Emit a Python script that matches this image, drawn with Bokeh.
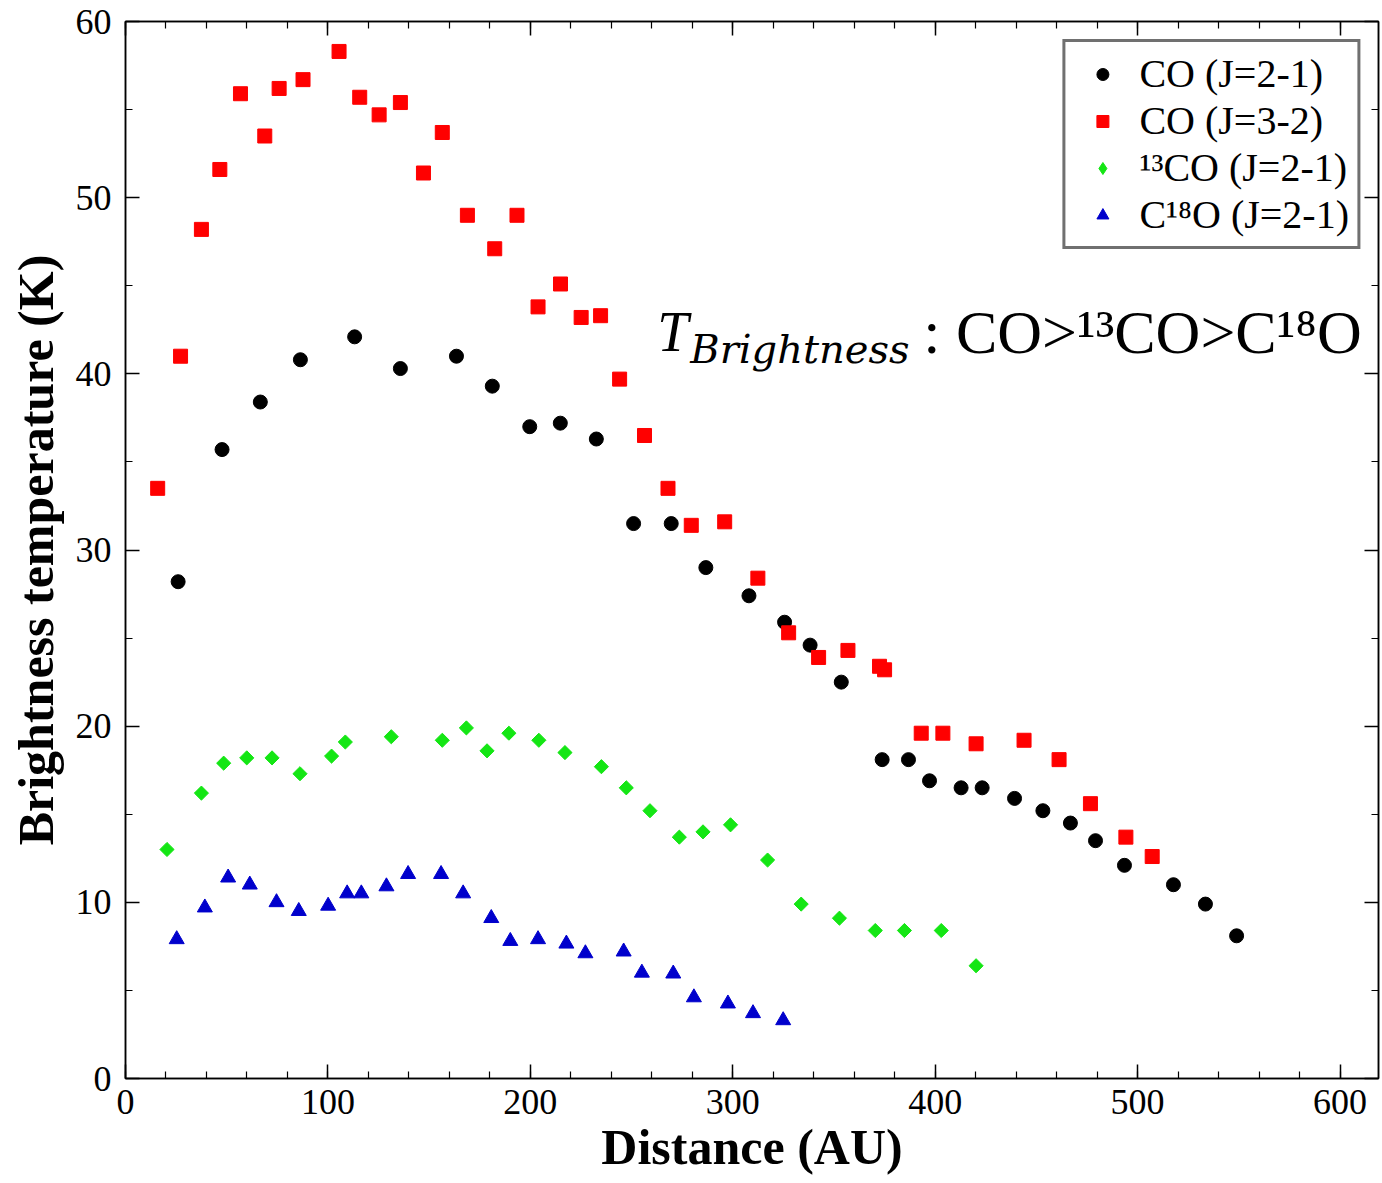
from bokeh.plotting import figure
from bokeh.models import (Range1d, LinearAxis, SingleIntervalTicker, Legend, LegendItem, Label,
                          CustomLabelingPolicy)
from bokeh.embed import file_html
from bokeh.resources import INLINE
import math

# ---------------- data ----------------
co21_x = [26.0, 47.7, 66.6, 86.4, 113.2, 135.8, 163.5, 181.2, 199.7, 214.8, 232.6, 251.0,
          269.6, 286.7, 308.0, 325.6, 338.2, 353.6, 373.8, 386.8, 397.2, 412.8, 423.2, 439.2,
          453.2, 466.8, 479.2, 493.5, 517.7, 533.5, 548.9]
co21_y = [28.2, 35.7, 38.4, 40.8, 42.1, 40.3, 41.0, 39.3, 37.0, 37.2, 36.3, 31.5,
          31.5, 29.0, 27.4, 25.9, 24.6, 22.5, 18.1, 18.1, 16.9, 16.5, 16.5, 15.9,
          15.2, 14.5, 13.5, 12.1, 11.0, 9.9, 8.1]

co32_x = [15.9, 27.2, 37.5, 46.6, 56.8, 68.8, 75.9, 87.7, 105.5, 115.7, 125.3, 135.8,
          147.2, 156.5, 168.9, 182.4, 193.4, 203.8, 214.9, 225.1, 234.7, 244.1, 256.4, 268.0,
          279.5, 296.0, 312.4, 327.6, 342.4, 356.9, 372.5, 375.0, 393.1, 403.8, 420.2, 443.9,
          461.2, 476.7, 494.2, 507.2]
co32_y = [33.5, 41.0, 48.2, 51.6, 55.9, 53.5, 56.2, 56.7, 58.3, 55.7, 54.7, 55.4,
          51.4, 53.7, 49.0, 47.1, 49.0, 43.8, 45.1, 43.2, 43.3, 39.7, 36.5, 33.5,
          31.4, 31.6, 28.4, 25.3, 23.9, 24.3, 23.4, 23.2, 19.6, 19.6, 19.0, 19.2,
          18.1, 15.6, 13.7, 12.6]

co13_x = [20.5, 37.5, 48.5, 59.9, 72.4, 86.2, 101.8, 108.6, 131.3, 156.5, 168.4, 178.6,
          189.4, 204.2, 217.1, 235.1, 247.4, 259.1, 273.6, 285.3, 298.9, 317.2, 333.8, 352.7,
          370.4, 384.8, 403.0, 420.2]
co13_y = [13.0, 16.2, 17.9, 18.2, 18.2, 17.3, 18.3, 19.1, 19.4, 19.2, 19.9, 18.6,
          19.6, 19.2, 18.5, 17.7, 16.5, 15.2, 13.7, 14.0, 14.4, 12.4, 9.9, 9.1,
          8.4, 8.4, 8.4, 6.4]

c18o_x = [25.3, 39.2, 50.7, 61.4, 74.6, 85.6, 100.1, 109.5, 116.5, 128.9, 139.6, 155.9,
          166.8, 180.7, 190.1, 203.8, 217.8, 227.2, 246.1, 255.1, 270.6, 280.8, 297.6, 310.0,
          324.9]
c18o_y = [7.9, 9.7, 11.4, 11.0, 10.0, 9.5, 9.8, 10.5, 10.5, 10.9, 11.6, 11.6,
          10.5, 9.1, 7.8, 7.9, 7.65, 7.1, 7.2, 6.0, 5.95, 4.6, 4.25, 3.7,
          3.3]

series_labels = ["CO (J=2-1)", "CO (J=3-2)", "\u00b9\u00b3CO (J=2-1)", "C\u00b9\u2078O (J=2-1)"]
x_title = "Distance (AU)"
y_title = "Brightness temperature (K)"

SERIF = "Liberation Serif"
GREEN = "#14e614"

p = figure(width=1380, height=1181, output_backend="svg", toolbar_location=None,
           x_range=Range1d(0, 619), y_range=Range1d(0, 60),
           min_border_left=125, min_border_right=2, min_border_top=21, min_border_bottom=103)
p.xgrid.visible = False
p.ygrid.visible = False
p.outline_line_color = "black"
p.outline_line_width = 1.5
p.background_fill_color = "white"
p.border_fill_color = "white"


def style(ax):
    ax.major_tick_in = 14
    ax.major_tick_out = 0
    ax.minor_tick_in = 7
    ax.minor_tick_out = 0
    ax.axis_line_color = "black"
    ax.axis_line_width = 1.5
    ax.major_tick_line_color = "black"
    ax.minor_tick_line_color = "black"
    ax.major_tick_line_width = 1.5
    ax.minor_tick_line_width = 1.2
    ax.major_label_text_font = SERIF
    ax.major_label_text_font_size = "36px"
    ax.major_label_text_color = "black"
    ax.axis_label_text_font = SERIF
    ax.axis_label_text_font_style = "bold"
    ax.axis_label_text_font_size = "50px"
    ax.axis_label_text_color = "black"


xa = p.xaxis[0]
ya = p.yaxis[0]
xa.ticker = SingleIntervalTicker(interval=100, num_minor_ticks=5)
ya.ticker = SingleIntervalTicker(interval=10, num_minor_ticks=2)
style(xa)
style(ya)
xa.axis_label = x_title
ya.axis_label = y_title
xa.major_label_standoff = 11
xa.axis_label_standoff = 2
ya.major_label_standoff = 14
ya.axis_label_standoff = 9

# mirrored tick marks on the top and right edges (no labels)
top = LinearAxis(ticker=SingleIntervalTicker(interval=100, num_minor_ticks=5))
right = LinearAxis(ticker=SingleIntervalTicker(interval=10, num_minor_ticks=2))
for ax in (top, right):
    style(ax)
    ax.major_label_text_font_size = "0px"
    ax.major_label_standoff = 0
    ax.major_label_policy = CustomLabelingPolicy(code="return []")
p.add_layout(top, "above")
p.add_layout(right, "right")

r1 = p.scatter(co21_x, co21_y, marker="circle", size=14, fill_color="black", line_color="black")
r2 = p.scatter(co32_x, co32_y, marker="square", size=14, fill_color="#ff0000", line_color="#ff0000")
r3 = p.scatter(co13_x, co13_y, marker="square", angle=math.pi / 4, size=10,
               fill_color=GREEN, line_color=GREEN)
r4 = p.scatter(c18o_x, c18o_y, marker="triangle", size=15, fill_color="#0000cc", line_color="#0000cc")
# legend-only glyph (not drawn in the plot) so that the legend shows a diamond
r3_leg = p.scatter(x=[float("nan")], y=[float("nan")], marker="diamond", size=14,
                   fill_color=GREEN, line_color=GREEN)

legend = Legend(items=[LegendItem(label=series_labels[0], renderers=[r1]),
                       LegendItem(label=series_labels[1], renderers=[r2]),
                       LegendItem(label=series_labels[2], renderers=[r3_leg]),
                       LegendItem(label=series_labels[3], renderers=[r4])],
                location="top_right", label_text_font=SERIF, label_text_font_size="40px",
                label_text_color="black",
                glyph_width=58, glyph_height=30, label_standoff=8, padding=8, spacing=0, margin=18,
                border_line_color="#707070", border_line_width=3, border_line_alpha=1.0,
                background_fill_color="white", background_fill_alpha=1.0)
p.add_layout(legend)

# annotation  T_Brightness : CO > 13CO > C18O
ax0, ay0 = 262.7, 42.35
p.add_layout(Label(x=ax0, y=ay0, text="T", text_font=SERIF, text_font_style="italic",
                   text_font_size="56px", text_baseline="alphabetic", text_color="black"))
p.add_layout(Label(x=ax0, y=ay0, x_offset=33, y_offset=-17, text="Brightness", text_font="DejaVu Serif",
                   text_font_style="italic", text_font_size="40px", text_baseline="alphabetic",
                   text_color="black"))
p.add_layout(Label(x=ax0, y=ay0, x_offset=266, y_offset=0,
                   text=": CO>\u00b9\u00b3CO>C\u00b9\u2078O", text_font=SERIF,
                   text_font_size="62px", text_baseline="alphabetic", text_color="black"))

open("out.html", "w").write(file_html(p, INLINE))
